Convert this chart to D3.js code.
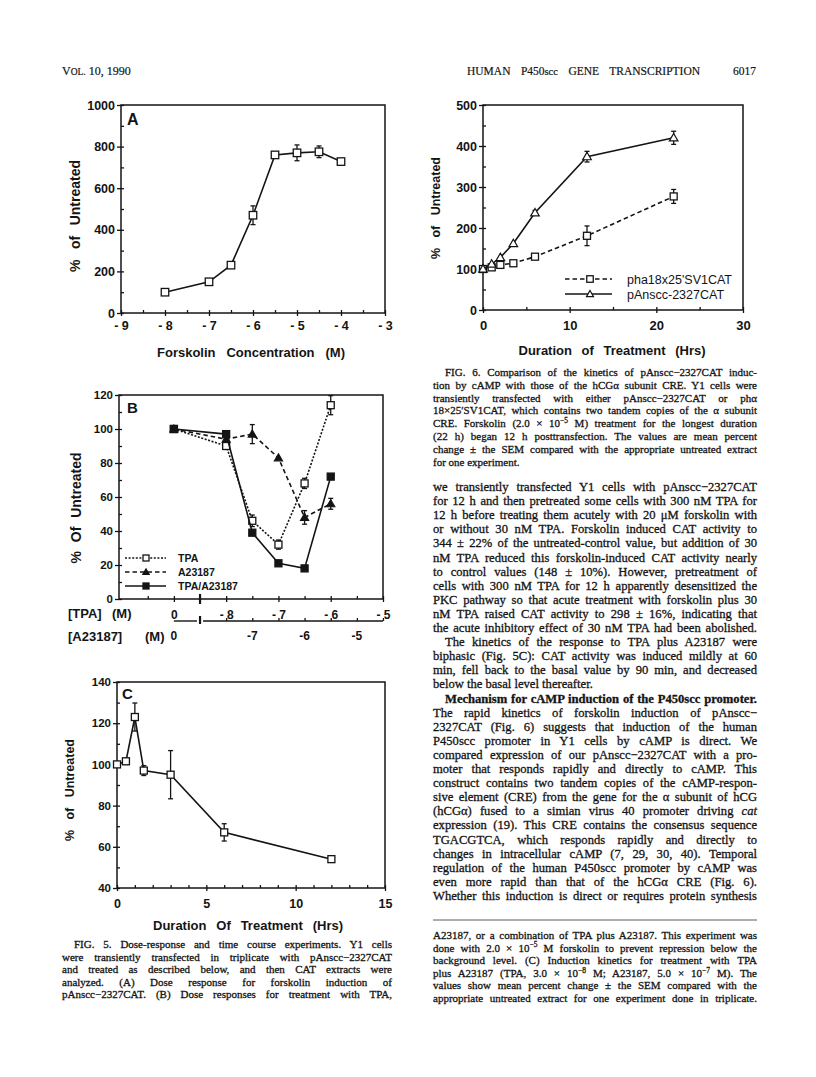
<!DOCTYPE html>
<html><head><meta charset="utf-8">
<script src="https://cdn.jsdelivr.net/npm/d3@7"></script>
<style>html,body{margin:0;padding:0;background:#fff;}</style>
</head><body>
<svg id="page" width="816" height="1077"></svg>
<script>
// ================= DATA =================
// Fig 5A: forskolin dose response
const forskolinLogM = [-8, -7, -6.5, -6, -5.5, -5, -4.5, -4];
const forskolinPct  = [100, 150, 230, 470, 760, 770, 775, 728];
const forskolinErr  = [0, 0, 8, 45, 8, 38, 28, 8];
const aYTicks = [0, 200, 400, 600, 800, 1000];
const aXTicks = [-9, -8, -7, -6, -5, -4, -3];

// Fig 5B: dose responses (log M of TPA; -9 stands for the zero dose, left of the axis break)
const tpaLogM    = [-9, -8, -7.5, -7, -6.5, -6];
const tpaPct     = [100, 90, 46, 32, 68, 114];
const tpaErr     = [0, 2, 3.4, 2.7, 3, 5.6];
const a23187Pct  = [100, 94, 97, 83, 48, 56];
const a23187Err  = [0, 0, 5.6, 0, 4, 3.2];
const comboPct   = [100, 97, 39, 21, 18, 72];
const comboErr   = [0, 0, 0, 0, 0, 0];
const bSeriesNames = ["TPA", "A23187", "TPA/A23187"];
const bYTicks = [0, 20, 40, 60, 80, 100, 120];
const tpaTickPos = [-9, -8, -7, -6, -5];
const tpaTickLabels = ["0", "- 8", "- 7", "- 6", "- 5"];
const a23187TickPos = [-8.5, -7, -6, -5];
const a23187TickLabels = ["0", "-7", "-6", "-5"];

// Fig 5C: time course
const timeC = [0, 0.5, 1, 1.5, 3, 6, 12];
const pctC  = [100, 101.5, 123, 97, 95, 67, 54];
const errC  = [0, 1.5, 6.8, 2.4, 11.7, 4.2, 1];
const cYTicks = [40, 60, 80, 100, 120, 140];
const cXTicks = [0, 5, 10, 15];

// Fig 6: kinetics
const time6 = [0, 1, 2, 3.5, 6, 12, 22];
const phaPct = [100, 104, 110, 114, 130, 181, 277];
const phaErr = [0, 3, 0, 0, 0, 24, 17];
const pAnPct = [100, 112, 128, 162, 237, 374, 420];
const pAnErr = [0, 0, 0, 0, 6, 13, 16];
const series6Names = ["pha18x25'SV1CAT", "pAnscc-2327CAT"];
const y6Ticks = [0, 100, 200, 300, 400, 500];
const x6Ticks = [0, 10, 20, 30];

// ================= TEXT =================
const fig6Caption = [
  "FIG. 6. Comparison of the kinetics of pAnscc−2327CAT induc-",
  "tion by cAMP with those of the hCGα subunit CRE. Y1 cells were",
  "transiently transfected with either pAnscc−2327CAT or phα",
  "18×25′SV1CAT, which contains two tandem copies of the α subunit",
  "CRE. Forskolin (2.0 × 10<s>−5</s> M) treatment for the longest duration",
  "(22 h) began 12 h posttransfection. The values are mean percent",
  "change ± the SEM compared with the appropriate untreated extract",
  "for one experiment."
];
const bodyLines = [
  "we transiently transfected Y1 cells with pAnscc−2327CAT",
  "for 12 h and then pretreated some cells with 300 nM TPA for",
  "12 h before treating them acutely with 20 μM forskolin with",
  "or without 30 nM TPA. Forskolin induced CAT activity to",
  "344 ± 22% of the untreated-control value, but addition of 30",
  "nM TPA reduced this forskolin-induced CAT activity nearly",
  "to control values (148 ± 10%). However, pretreatment of",
  "cells with 300 nM TPA for 12 h apparently desensitized the",
  "PKC pathway so that acute treatment with forskolin plus 30",
  "nM TPA raised CAT activity to 298 ± 16%, indicating that",
  "the acute inhibitory effect of 30 nM TPA had been abolished.",
  "The kinetics of the response to TPA plus A23187 were",
  "biphasic (Fig. 5C): CAT activity was induced mildly at 60",
  "min, fell back to the basal value by 90 min, and decreased",
  "below the basal level thereafter.",
  "<b>Mechanism for cAMP induction of the P450scc promoter.</b>",
  "The rapid kinetics of forskolin induction of pAnscc−",
  "2327CAT (Fig. 6) suggests that induction of the human",
  "P450scc promoter in Y1 cells by cAMP is direct. We",
  "compared expression of our pAnscc−2327CAT with a pro-",
  "moter that responds rapidly and directly to cAMP. This",
  "construct contains two tandem copies of the cAMP-respon-",
  "sive element (CRE) from the gene for the α subunit of hCG",
  "(hCGα) fused to a simian virus 40 promoter driving <i>cat</i>",
  "expression (19). This CRE contains the consensus sequence",
  "TGACGTCA, which responds rapidly and directly to",
  "changes in intracellular cAMP (7, 29, 30, 40). Temporal",
  "regulation of the human P450scc promoter by cAMP was",
  "even more rapid than that of the hCGα CRE (Fig. 6).",
  "Whether this induction is direct or requires protein synthesis"
];
const bodyIndent = [11, 15];
const bodyRagged = [14];
const fig5CaptionRight = [
  "A23187, or a combination of TPA plus A23187. This experiment was",
  "done with 2.0 × 10<s>−5</s> M forskolin to prevent repression below the",
  "background level. (C) Induction kinetics for treatment with TPA",
  "plus A23187 (TPA, 3.0 × 10<s>−8</s> M; A23187, 5.0 × 10<s>−7</s> M). The",
  "values show mean percent change ± the SEM compared with the",
  "appropriate untreated extract for one experiment done in triplicate."
];
const fig5CaptionLeft = [
  "FIG. 5. Dose-response and time course experiments. Y1 cells",
  "were transiently transfected in triplicate with pAnscc−2327CAT",
  "and treated as described below, and then CAT extracts were",
  "analyzed. (A) Dose response for forskolin induction of",
  "pAnscc−2327CAT. (B) Dose responses for treatment with TPA,"
];

// ================= DRAWING =================
const SANS = "'Liberation Sans', Arial, Helvetica, sans-serif";
const SERIF = "'Liberation Serif', 'Times New Roman', Times, serif";
const INK = "#141414";
const page = d3.select("#page");

function range(a, b, s) { const r = []; for (let v = a; v <= b + 1e-9; v += s) r.push(+v.toFixed(4)); return r; }

function styleAxis(sel, fs) {
  sel.select(".domain").remove();
  sel.attr("font-family", SANS).attr("font-size", fs).attr("font-weight", "bold");
  sel.selectAll("line").attr("stroke", INK).attr("stroke-width", 1.3);
  sel.selectAll("text").attr("fill", INK);
}

function axes(g, x, y, o) {
  const [x0, x1] = x.range(); const [yb, yt] = y.range();
  g.append("rect").attr("x", x0).attr("y", yt).attr("width", x1 - x0).attr("height", yb - yt)
    .attr("fill", "none").attr("stroke", INK).attr("stroke-width", 1.5);
  styleAxis(g.append("g").attr("transform", `translate(${x0},0)`)
    .call(d3.axisLeft(y).tickValues(o.yMajor).tickSize(4).tickPadding(2).tickFormat(d3.format("d"))), o.fs);
  styleAxis(g.append("g").attr("transform", `translate(${x0},0)`)
    .call(d3.axisLeft(y).tickValues(o.yMinor.concat(o.yMajor)).tickSize(-3).tickFormat(() => "")), o.fs);
  styleAxis(g.append("g").attr("transform", `translate(0,${yb})`)
    .call(d3.axisBottom(x).tickValues(o.xMajor).tickSize(3).tickPadding(o.xPad).tickFormat(o.xFmt)), o.xfs || o.fs);
  styleAxis(g.append("g").attr("transform", `translate(0,${yb})`)
    .call(d3.axisBottom(x).tickValues(o.xMinor.concat(o.xMajor)).tickSize(-3).tickFormat(() => "")), o.fs);
}

function marker(g, type, cx, cy, s) {
  if (type === "sqOpen" || type === "sqFill") {
    g.append("rect").attr("x", cx - s / 2).attr("y", cy - s / 2).attr("width", s).attr("height", s)
      .attr("fill", type === "sqOpen" ? "#fff" : INK).attr("stroke", INK).attr("stroke-width", 1.3);
  } else {
    g.append("path").attr("transform", `translate(${cx},${cy + 0.6})`)
      .attr("d", d3.symbol(d3.symbolTriangle, s * s * 0.5)())
      .attr("fill", type === "triOpen" ? "#fff" : INK).attr("stroke", INK).attr("stroke-width", 1.2);
  }
}

function series(g, x, y, xs, ys, errs, o) {
  const pts = xs.map((v, i) => ({ x: v, y: ys[i], e: errs ? errs[i] : 0 }));
  g.append("path").datum(pts)
    .attr("d", d3.line().x(d => x(d.x)).y(d => y(d.y)))
    .attr("fill", "none").attr("stroke", INK).attr("stroke-width", o.lw || 1.6)
    .attr("stroke-dasharray", o.dash || null);
  pts.filter(d => d.e > 0).forEach(d => {
    const cx = x(d.x), ya = y(d.y - d.e), yb = y(d.y + d.e);
    g.append("line").attr("x1", cx).attr("x2", cx).attr("y1", ya).attr("y2", yb).attr("stroke", INK).attr("stroke-width", 1.3);
    [ya, yb].forEach(yy => g.append("line").attr("x1", cx - 2.5).attr("x2", cx + 2.5).attr("y1", yy).attr("y2", yy).attr("stroke", INK).attr("stroke-width", 1.3));
  });
  pts.forEach(d => marker(g, o.marker, x(d.x), y(d.y), o.ms || 7));
}

function sansText(g, x, y, str, o) {
  const t = g.append("text").attr("x", x).attr("y", y).text(str)
    .attr("font-family", SANS).attr("font-weight", o.weight || "bold").attr("font-size", o.fs).attr("fill", INK)
    .attr("text-anchor", o.anchor || "start");
  if (o.rotate) t.attr("transform", `rotate(-90,${x},${y})`);
  if (o.width) {
    const w = t.node().getComputedTextLength();
    const n = (str.match(/ /g) || []).length;
    if (n) t.attr("word-spacing", Math.max(0, (o.width - w) / n));
  }
  return t;
}

// ---------- Fig 5A ----------
{
  const g = page.append("g");
  const x = d3.scaleLinear().domain([-9, -3]).range([121, 385]);
  const y = d3.scaleLinear().domain([0, 1000]).range([313, 105]);
  axes(g, x, y, {
    yMajor: aYTicks, yMinor: range(100, 900, 200), xMajor: aXTicks,
    xMinor: range(-8.5, -3.5, 1), xPad: 5, fs: 12.5, xFmt: d => "- " + Math.abs(d)
  });
  series(g, x, y, forskolinLogM, forskolinPct, forskolinErr, { marker: "sqOpen", ms: 7.5 });
  sansText(g, 127, 125, "A", { fs: 16 });
  sansText(g, 80, 216, "% of Untreated", { fs: 14, anchor: "middle", rotate: true, width: 112 });
  sansText(g, 251, 357, "Forskolin Concentration (M)", { fs: 13, anchor: "middle", width: 188 });
}

// ---------- Fig 5B ----------
{
  const g = page.append("g");
  const x = d3.scaleLinear().domain([-10.05, -5]).range([119, 383]);
  const xA = d3.scaleLinear().domain([-9.55, -4.5]).range([119, 383]);
  const y = d3.scaleLinear().domain([0, 120]).range([599, 395]);
  const minorB = range(-9.5, -5.5, 0.5).filter(v => !tpaTickPos.includes(v) && v !== -8.5);
  axes(g, x, y, {
    yMajor: bYTicks, yMinor: range(10, 110, 20), xMajor: tpaTickPos,
    xMinor: minorB, xPad: 8, fs: 11.5, xfs: 12, xFmt: (d, i) => tpaTickLabels[i]
  });
  // axis break mark on the TPA axis
  g.append("line").attr("x1", x(-8.5)).attr("x2", x(-8.5)).attr("y1", 594).attr("y2", 604).attr("stroke", INK).attr("stroke-width", 2.2);
  // second (A23187) axis
  const ya = 621;
  g.append("line").attr("x1", xA(-8.5)).attr("x2", x(-8.5) - 3).attr("y1", ya).attr("y2", ya).attr("stroke", INK).attr("stroke-width", 1.4);
  g.append("line").attr("x1", x(-8.5) + 3).attr("x2", x(-5)).attr("y1", ya).attr("y2", ya).attr("stroke", INK).attr("stroke-width", 1.4);
  g.append("line").attr("x1", x(-8.5)).attr("x2", x(-8.5)).attr("y1", ya - 5).attr("y2", ya + 3).attr("stroke", INK).attr("stroke-width", 2.2);
  const aAx = g.append("g").attr("transform", `translate(0,${ya})`)
    .call(d3.axisTop(xA).tickValues(range(-7.5, -4.5, 0.5)).tickSize(3).tickFormat(() => ""));
  styleAxis(aAx, 11);
  a23187TickPos.forEach((p, i) => sansText(g, xA(p), 640, a23187TickLabels[i], { fs: 12, anchor: "middle" }));
  sansText(g, 68, 618, "[TPA]", { fs: 13 });
  sansText(g, 112, 618, "(M)", { fs: 13 });
  sansText(g, 68, 641, "[A23187]", { fs: 13 });
  sansText(g, 145, 641, "(M)", { fs: 13 });

  const styles = [
    { marker: "sqOpen", dash: "2,1.6", ms: 7 },
    { marker: "triFill", dash: "4.5,3", ms: 7.5 },
    { marker: "sqFill", ms: 7 }
  ];
  series(g, x, y, tpaLogM, a23187Pct, a23187Err, styles[1]);
  series(g, x, y, tpaLogM, tpaPct, tpaErr, styles[0]);
  series(g, x, y, tpaLogM, comboPct, comboErr, styles[2]);
  // legend
  const rows = [558, 572, 586];
  bSeriesNames.forEach((n, i) => {
    g.append("line").attr("x1", 125).attr("x2", 166).attr("y1", rows[i]).attr("y2", rows[i])
      .attr("stroke", INK).attr("stroke-width", 1.5).attr("stroke-dasharray", styles[i].dash || null);
    marker(g, styles[i].marker, 146, rows[i], 6);
    sansText(g, 178, rows[i] + 3.8, n, { fs: 10.5 });
  });
  sansText(g, 127, 413, "B", { fs: 15 });
  sansText(g, 81, 508, "% Of Untreated", { fs: 14, anchor: "middle", rotate: true, width: 111 });
}

// ---------- Fig 5C ----------
{
  const g = page.append("g");
  const x = d3.scaleLinear().domain([0, 15]).range([117, 385]);
  const y = d3.scaleLinear().domain([40, 140]).range([888, 682]);
  axes(g, x, y, {
    yMajor: cYTicks, yMinor: range(50, 130, 20), xMajor: cXTicks,
    xMinor: range(1, 14, 1).filter(v => v % 5 !== 0), xPad: 8, fs: 11.5, xfs: 12.5, xFmt: d3.format("d")
  });
  series(g, x, y, timeC, pctC, errC, { marker: "sqOpen", ms: 7 });
  sansText(g, 122, 699, "C", { fs: 15 });
  sansText(g, 74, 790, "% of Untreated", { fs: 12.5, anchor: "middle", rotate: true, width: 102 });
  sansText(g, 248, 930, "Duration Of Treatment (Hrs)", { fs: 13, anchor: "middle", width: 190 });
}

// ---------- Fig 6 ----------
{
  const g = page.append("g");
  const x = d3.scaleLinear().domain([0, 30]).range([483, 743]);
  const y = d3.scaleLinear().domain([0, 500]).range([310, 105]);
  axes(g, x, y, {
    yMajor: y6Ticks, yMinor: range(50, 450, 100), xMajor: x6Ticks,
    xMinor: range(5, 25, 10), xPad: 8, fs: 12.5, xfs: 13, xFmt: d3.format("d")
  });
  const st = [{ marker: "sqOpen", dash: "4.5,3", ms: 7 }, { marker: "triOpen", ms: 8 }];
  series(g, x, y, time6, phaPct, phaErr, st[0]);
  series(g, x, y, time6, pAnPct, pAnErr, st[1]);
  const rows = [279, 294];
  series6Names.forEach((n, i) => {
    g.append("line").attr("x1", 565).attr("x2", 612).attr("y1", rows[i]).attr("y2", rows[i])
      .attr("stroke", INK).attr("stroke-width", 1.5).attr("stroke-dasharray", st[i].dash || null);
    marker(g, st[i].marker, 590, rows[i], 6.5);
    sansText(g, 627, rows[i] + 4.5, n, { fs: 12.5, weight: "normal" });
  });
  sansText(g, 440, 208, "% of Untreated", { fs: 12.5, anchor: "middle", rotate: true, width: 102 });
  sansText(g, 612, 355, "Duration of Treatment (Hrs)", { fs: 13, anchor: "middle", width: 187 });
}

// ---------- page text ----------
function serifLine(x, y, str, fs, width) {
  const t = page.append("text").attr("x", x).attr("y", y).attr("font-family", SERIF)
    .attr("font-size", fs).attr("fill", INK).attr("stroke", INK).attr("stroke-width", 0.3);
  const re = /<(i|b|s)>(.*?)<\/\1>/g;
  const segs = []; let last = 0, m;
  while ((m = re.exec(str))) {
    if (m.index > last) segs.push({ t: str.slice(last, m.index) });
    segs.push({ t: m[2], k: m[1] });
    last = re.lastIndex;
  }
  if (last < str.length) segs.push({ t: str.slice(last) });
  let up = false;
  segs.forEach(sg => {
    const sp = t.append("tspan").text(sg.t);
    if (sg.k === "i") sp.attr("font-style", "italic");
    if (sg.k === "b") sp.attr("font-weight", "bold");
    if (sg.k === "s") { sp.attr("font-size", fs * 0.68).attr("dy", -fs * 0.38); up = true; }
    else if (up) { sp.attr("dy", fs * 0.38); up = false; }
  });
  if (width) {
    const w = t.node().getComputedTextLength();
    const n = (str.replace(/<[^>]+>/g, "").match(/ /g) || []).length;
    const ws = n ? (width - w) / n : 0;
    if (ws >= -1.2) t.attr("word-spacing", ws);
    else t.attr("textLength", width).attr("lengthAdjust", "spacingAndGlyphs");
  }
  return t;
}

// header
{
  const t = page.append("text").attr("x", 62).attr("y", 75).attr("font-family", SERIF).attr("fill", INK).attr("font-size", 12).attr("stroke", INK).attr("stroke-width", 0.2);
  t.append("tspan").text("V"); t.append("tspan").attr("font-size", 9.5).text("OL."); t.append("tspan").text(" 10, 1990");
  const h = page.append("text").attr("x", 467).attr("y", 75).attr("font-family", SERIF).attr("fill", INK).attr("font-size", 11.5).attr("stroke", INK).attr("stroke-width", 0.2);
  h.append("tspan").text("HUMAN P450"); h.append("tspan").attr("font-size", 10.5).text("scc"); h.append("tspan").text(" GENE TRANSCRIPTION");
  const w = h.node().getComputedTextLength();
  h.attr("word-spacing", (233 - w) / 3);
  page.append("text").attr("x", 756).attr("y", 75).attr("text-anchor", "end").attr("font-family", SERIF).attr("fill", INK).attr("font-size", 11.5).attr("stroke", INK).attr("stroke-width", 0.2).text("6017");
}

const RX = 433, RW = 324;
fig6Caption.forEach((s, i) => {
  const ind = i === 0 ? 12 : 0;
  serifLine(RX + ind, 376 + i * 12.8, s, 11, i === fig6Caption.length - 1 ? null : RW - ind);
});
bodyLines.forEach((s, i) => {
  const ind = bodyIndent.includes(i) ? 12 : 0;
  serifLine(RX + ind, 491 + i * 14.1, s, 12.6, bodyRagged.includes(i) ? null : RW - ind);
});
page.append("line").attr("x1", RX).attr("x2", RX + RW).attr("y1", 920).attr("y2", 920).attr("stroke", "#333").attr("stroke-width", 0.8);
fig5CaptionRight.forEach((s, i) => serifLine(RX, 939 + i * 12.6, s, 11, RW));
const LX = 62, LW = 330;
fig5CaptionLeft.forEach((s, i) => {
  const ind = i === 0 ? 12 : 0;
  serifLine(LX + ind, 948 + i * 12.6, s, 11, LW - ind);
});
</script>
</body></html>
